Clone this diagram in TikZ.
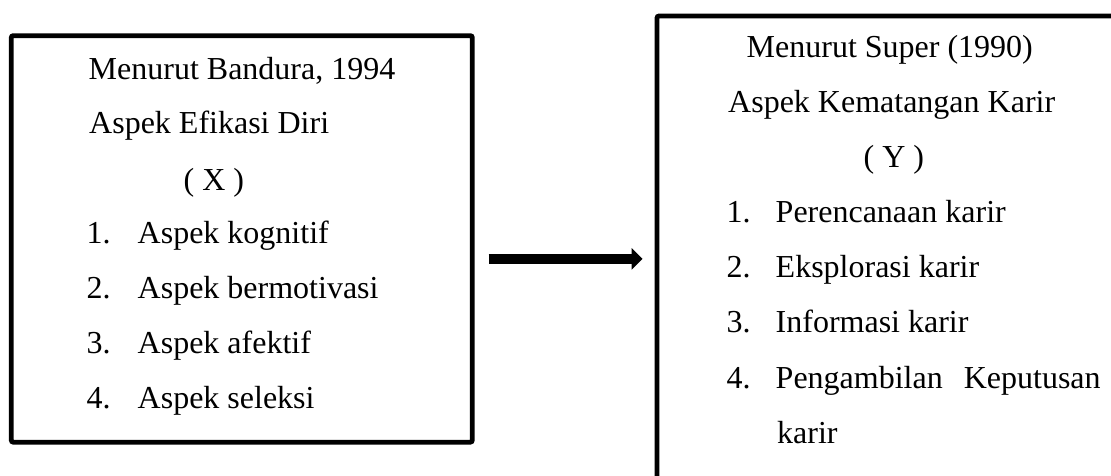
\documentclass[tikz,border=0pt]{standalone}
\usepackage{fontspec}
\setmainfont{Liberation Serif}
\usetikzlibrary{calc,arrows.meta}
\begin{document}
\begin{tikzpicture}[x=1pt,y=-1pt,
  txt/.style={anchor=base west,inner sep=0pt,font=\fontsize{32}{38}\selectfont},
  box/.style={draw,line width=4.8pt,rectangle,inner sep=0pt,rounded corners=2pt},
  conn/.style={line width=9.3pt,-{Triangle[length=11pt,width=21pt]}}]
\useasboundingbox (0,0) rectangle (1111,475);
\clip (0,0) rectangle (1111,475);
% boxes
\node[box,minimum width=461pt,minimum height=406.5pt] (L) at (241.8,238.9) {};
\node[box,minimum width=474pt,minimum height=484pt] (R) at (894,258) {};
% left box text
\node[txt] (l1) at (88.5,79) {Menurut Bandura, 1994};
\node[txt] (l2) at (89,133) {Aspek Efikasi Diri};
\node[txt] (l3) at (183.5,190) {( X )};
\node[txt] (n1) at (86.5,243) {1.};
\node[txt] (i1) at (137.5,243) {Aspek kognitif};
\node[txt] (n2) at (86.5,298) {2.};
\node[txt] (i2) at (137.5,298) {Aspek bermotivasi};
\node[txt] (n3) at (86.5,353) {3.};
\node[txt] (i3) at (137.5,353) {Aspek afektif};
\node[txt] (n4) at (86.5,408) {4.};
\node[txt] (i4) at (137.5,408) {Aspek seleksi};
% right box text
\node[txt] (r1) at (746.5,57.5) {Menurut Super (1990)};
\node[txt] (r2) at (728,112.5) {Aspek Kematangan Karir};
\node[txt] (r3) at (863.5,167) {( Y )};
\node[txt] (m1) at (726.5,222) {1.};
\node[txt] (j1) at (775.5,222) {Perencanaan karir};
\node[txt] (m2) at (726.5,277) {2.};
\node[txt] (j2) at (775.5,277) {Eksplorasi karir};
\node[txt] (m3) at (726.5,332) {3.};
\node[txt] (j3) at (775.5,332) {Informasi karir};
\node[txt] (m4) at (726.5,388) {4.};
\node[txt] (j4) at (775.5,388) {Pengambilan\hspace{21pt}Keputusan};
\node[txt] (j5) at (777,443) {karir};
% connector
\draw[conn] ($(L.east)+(14,20)$) -- ($(L.east -| R.west)+(-12,20)$);
\end{tikzpicture}
\end{document}
